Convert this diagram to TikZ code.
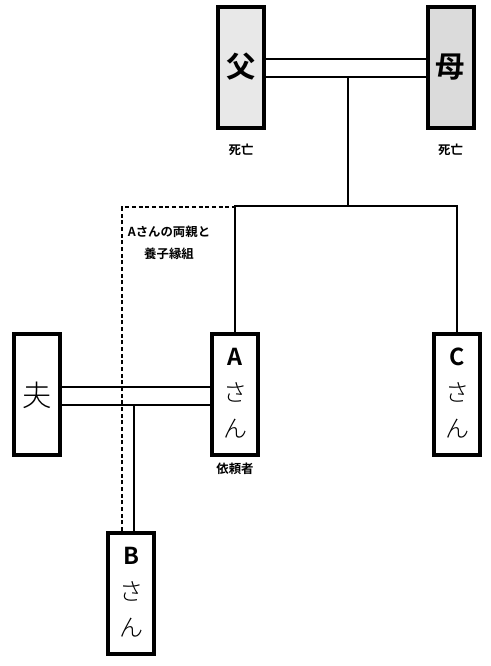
\documentclass[tikz,border=0pt]{standalone}
\usepackage{fontspec}
\setmainfont{Noto Sans CJK JP}[BoldFont={Noto Sans CJK JP Bold}]
\newfontfamily\lightcjk{Noto Sans CJK JP Light}
\usetikzlibrary{calc}
\tikzset{
persona/.style={rectangle,draw,line width=3pt,fill=white,minimum width=34.5pt,minimum height=90.75pt,inner sep=0pt},
difunto/.style={persona,fill=gray!18},
difunta/.style={persona,fill=gray!28},
kanji/.style={font=\fontsize{22}{22}\selectfont,inner sep=0pt},
letra/.style={font=\bfseries\fontsize{17.5}{17.5}\selectfont,inner sep=0pt},
kana/.style={font=\lightcjk\fontsize{18}{18}\selectfont,inner sep=0pt},
nota/.style={font=\bfseries\fontsize{9.3}{16.5}\selectfont,inner sep=0pt},
lazo/.style={line width=1.5pt},
adopcion/.style={line width=1.5pt,dash pattern=on 3pt off 2pt}
}
\begin{document}
\begin{tikzpicture}[x=0.75pt,y=-0.75pt]
\useasboundingbox (0,0) rectangle (491,666);

% padres
\node[difunto] (padre) at (241,67.5) {};
\node[difunta] (madre) at (450.5,67.5) {};
\node[kanji,font=\bfseries\fontsize{22}{22}\selectfont] (padreT) at (241,67) {父};
\node[kanji,font=\bfseries\fontsize{22}{22}\selectfont] (madreT) at (450.5,67) {母};
\node[nota] (padreM) at (241,150) {死亡};
\node[nota] (madreM) at (450.5,150) {死亡};

% hijos y esposo
\node[persona] (esposo) at (37,394.5) {};
\node[persona] (A) at (235,394.5) {};
\node[persona] (C) at (457,394.5) {};
\node[persona] (B) at (131,593.5) {};
\node[kanji,font=\lightcjk\fontsize{22}{22}\selectfont] (esposoT) at (37,395) {夫};
\foreach \n/\y in {A/357,C/357,B/556}{
\node[letra] (\n L) at (\n.north |- 0,\y) {\n};
\node[kana] (\n S) at ($(\n L)+(0,35)$) {さ};
\node[kana] (\n N) at ($(\n S)+(0,37)$) {ん};
}
\node[nota] (cliente) at (235,469) {依頼者};
\node[nota,align=center] (adoptT) at (169,243) {Aさんの両親と\\養子縁組};

% matrimonios
\draw[lazo] ($(padre.east)+(0,-8.5)$) -- ($(madre.west)+(0,-8.5)$);
\draw[lazo] ($(padre.east)+(0,9.5)$) -- ($(madre.west)+(0,9.5)$);
\draw[lazo] ($(esposo.east)+(0,-7.5)$) -- ($(A.west)+(0,-7.5)$);
\draw[lazo] ($(esposo.east)+(0,10.5)$) -- ($(A.west)+(0,10.5)$);

% descendencia
\coordinate (pj) at (348,77);
\coordinate (hj) at (348,206);
\draw[lazo] (pj) -- (hj);
\draw[lazo] (A.north) |- (hj) -| (C.north);
\coordinate (bj) at (134,405);
\draw[lazo] (bj) -- (bj |- B.north);

% adopcion
\coordinate (ad) at (122,207.5);
\draw[adopcion] (ad |- B.north) -- (ad) -- (A.north |- ad);
\end{tikzpicture}
\end{document}
